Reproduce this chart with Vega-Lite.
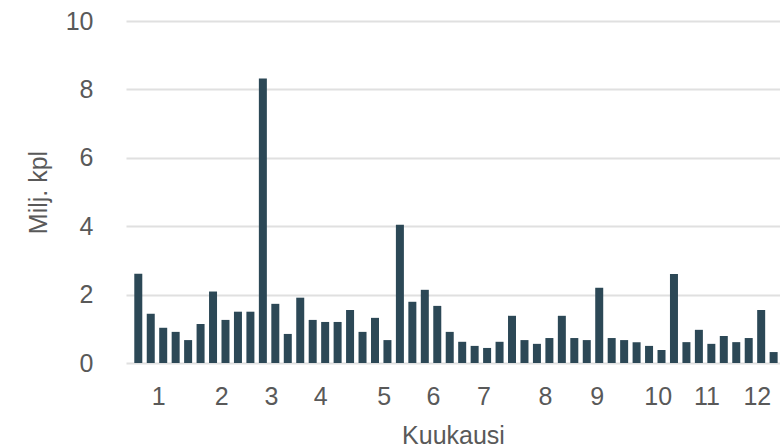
{
  "$schema": "https://vega.github.io/schema/vega-lite/v6.json",
  "autosize": {"type": "none"},
  "width": 654,
  "height": 342,
  "padding": {"left": 126, "top": 21, "right": 0, "bottom": 84},
  "background": "white",
  "config": {"view": {"stroke": null}, "font": "Liberation Sans"},
  "data": {"values": [
    {"viikko": 1, "milj": 2.61}, {"viikko": 2, "milj": 1.44}, {"viikko": 3, "milj": 1.03}, {"viikko": 4, "milj": 0.91},
    {"viikko": 5, "milj": 0.67}, {"viikko": 6, "milj": 1.14}, {"viikko": 7, "milj": 2.09}, {"viikko": 8, "milj": 1.26},
    {"viikko": 9, "milj": 1.50}, {"viikko": 10, "milj": 1.50}, {"viikko": 11, "milj": 8.32}, {"viikko": 12, "milj": 1.73},
    {"viikko": 13, "milj": 0.85}, {"viikko": 14, "milj": 1.91}, {"viikko": 15, "milj": 1.26}, {"viikko": 16, "milj": 1.20},
    {"viikko": 17, "milj": 1.20}, {"viikko": 18, "milj": 1.55}, {"viikko": 19, "milj": 0.91}, {"viikko": 20, "milj": 1.32},
    {"viikko": 21, "milj": 0.67}, {"viikko": 22, "milj": 4.04}, {"viikko": 23, "milj": 1.79}, {"viikko": 24, "milj": 2.14},
    {"viikko": 25, "milj": 1.67}, {"viikko": 26, "milj": 0.91}, {"viikko": 27, "milj": 0.62}, {"viikko": 28, "milj": 0.50},
    {"viikko": 29, "milj": 0.44}, {"viikko": 30, "milj": 0.62}, {"viikko": 31, "milj": 1.38}, {"viikko": 32, "milj": 0.67},
    {"viikko": 33, "milj": 0.56}, {"viikko": 34, "milj": 0.73}, {"viikko": 35, "milj": 1.38}, {"viikko": 36, "milj": 0.73},
    {"viikko": 37, "milj": 0.67}, {"viikko": 38, "milj": 2.20}, {"viikko": 39, "milj": 0.73}, {"viikko": 40, "milj": 0.67},
    {"viikko": 41, "milj": 0.61}, {"viikko": 42, "milj": 0.50}, {"viikko": 43, "milj": 0.38}, {"viikko": 44, "milj": 2.60},
    {"viikko": 45, "milj": 0.61}, {"viikko": 46, "milj": 0.97}, {"viikko": 47, "milj": 0.56}, {"viikko": 48, "milj": 0.79},
    {"viikko": 49, "milj": 0.61}, {"viikko": 50, "milj": 0.73}, {"viikko": 51, "milj": 1.55}, {"viikko": 52, "milj": 0.32}
  ]},
  "mark": {"type": "bar", "width": 8, "color": "#2c4856", "clip": true},
  "encoding": {
    "x": {
      "field": "viikko",
      "type": "quantitative",
      "scale": {"domain": [0.415, 52.11], "nice": false, "zero": false},
      "axis": {
        "values": [2.6, 7.65, 11.65, 15.6, 20.7, 24.65, 28.7, 33.65, 37.8, 42.7, 46.6, 50.65],
        "labelExpr": "indexof([2.6, 7.65, 11.65, 15.6, 20.7, 24.65, 28.7, 33.65, 37.8, 42.7, 46.6, 50.65], datum.value) + 1",
        "title": "Kuukausi",
        "grid": false,
        "domain": false,
        "ticks": false,
        "tickSize": 0,
        "labelPadding": 21,
        "labelFontSize": 25,
        "labelColor": "#595959",
        "labelFlush": false,
        "labelOverlap": false,
        "titleFontSize": 25,
        "titleFontWeight": "normal",
        "titleColor": "#595959",
        "titleY": 60,
        "titleBaseline": "top"
      }
    },
    "y": {
      "field": "milj",
      "type": "quantitative",
      "scale": {"domain": [0, 10], "nice": false},
      "axis": {
        "values": [0, 2, 4, 6, 8, 10],
        "title": "Milj. kpl",
        "grid": true,
        "gridColor": "#e0e0e0",
        "gridWidth": 2,
        "domain": false,
        "ticks": false,
        "tickSize": 0,
        "labelPadding": 33,
        "labelFontSize": 25,
        "labelColor": "#595959",
        "titleFontSize": 25,
        "titleFontWeight": "normal",
        "titleColor": "#595959",
        "titleX": -88,
        "titleBaseline": "middle"
      }
    }
  }
}
